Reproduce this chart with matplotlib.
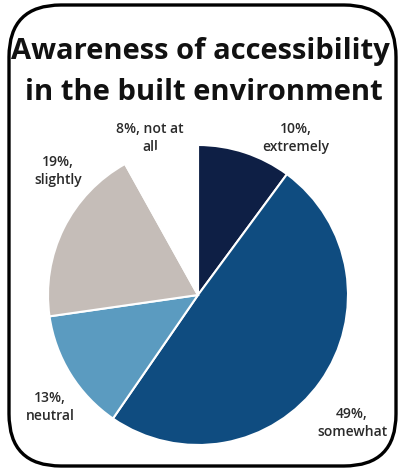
import matplotlib
matplotlib.use("Agg")
import matplotlib.pyplot as plt
from matplotlib.patches import FancyBboxPatch

# --- Survey data ---
categories = ["extremely", "somewhat", "neutral", "slightly", "not at all"]
shares = [10, 49, 13, 19, 8]
colors = ["#0e1f45", "#0f4c80", "#5b9bc0", "#c5bdb8", "#ffffff"]
label_text = ["10%,\nextremely", "49%,\nsomewhat", "13%,\nneutral",
              "19%,\nslightly", "8%, not at\nall"]
# label centres in pixels (x from left, y from top)
label_pos = [(296, 138), (352, 423), (50, 407), (58, 171), (150, 138)]

W, H = 400, 469
fig = plt.figure(figsize=(W / 100, H / 100), dpi=100)

# --- Background / frame axis in pixel units ---
bg = fig.add_axes([0, 0, 1, 1])
bg.set_xlim(0, W)
bg.set_ylim(H, 0)
bg.axis("off")
frame = FancyBboxPatch((9, 5), 387, 461,
                       boxstyle="round,pad=0,rounding_size=52",
                       fc="white", ec="black", lw=2.4)
bg.add_patch(frame)

bg.text(200, 52, "Awareness of accessibility", ha="center", va="center",
        fontsize=21, fontweight="bold", color="#111111", family="Open Sans")
bg.text(204, 93, "in the built environment", ha="center", va="center",
        fontsize=21, fontweight="bold", color="#111111", family="Open Sans")

for txt, (x, y) in zip(label_text, label_pos):
    bg.text(x, y, txt, ha="center", va="center", fontsize=10,
            color="#2a2a2a", family="Open Sans", fontweight="semibold",
            linespacing=1.45)

# --- Pie ---
cx, cy, r = 198, 295, 150
ax = fig.add_axes([(cx - r) / W, (H - cy - r) / H, 2 * r / W, 2 * r / H])
ax.pie(shares, colors=colors, startangle=90, counterclock=False,
       wedgeprops=dict(edgecolor="white", linewidth=1.5))
ax.set_xlim(-1, 1)
ax.set_ylim(-1, 1)
ax.set_aspect("equal")

fig.savefig("out.png", dpi=100)
